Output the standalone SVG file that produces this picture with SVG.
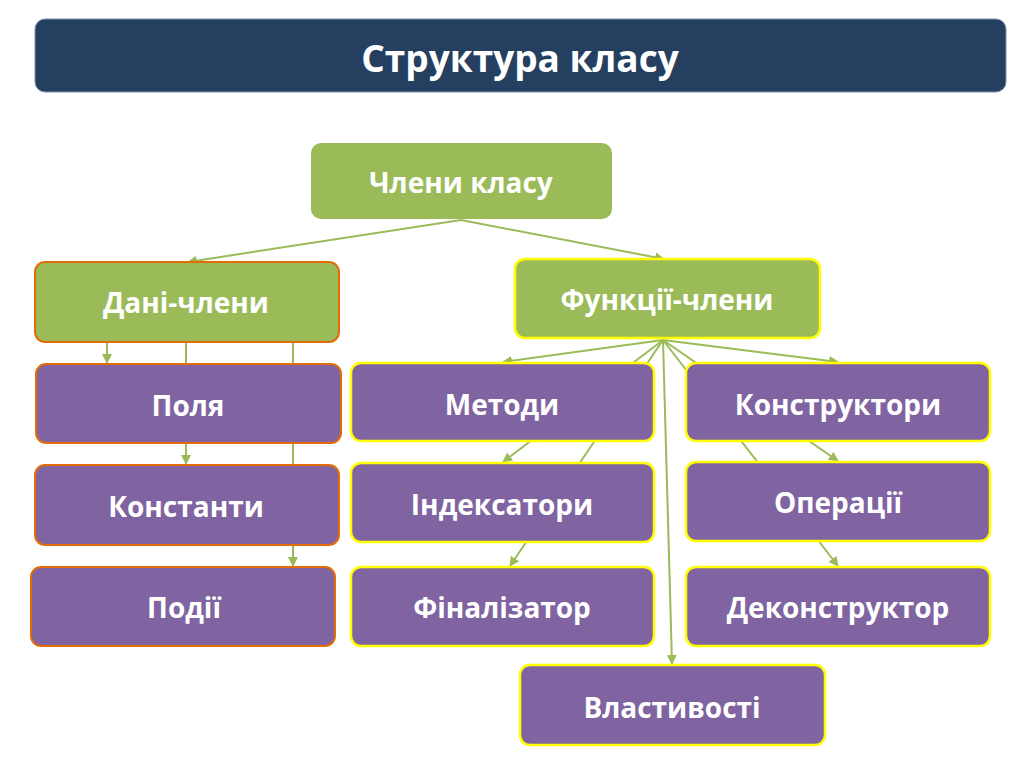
<svg xmlns="http://www.w3.org/2000/svg" width="1024" height="767" viewBox="0 0 1024 767">
<defs>
<marker id="ah" viewBox="0 0 10 10" refX="9" refY="5" markerWidth="5" markerHeight="5" orient="auto" markerUnits="strokeWidth">
<path d="M0,0 L10,5 L0,10 z" fill="#9BBB59"/>
</marker>
<style>
.t{font-family:"Open Sans","Liberation Sans",sans-serif;font-weight:bold;fill:#fff;text-anchor:middle;dominant-baseline:central;font-size:28px}
.g{fill:#9BBB59}
.p{fill:#8064A2}
.o{stroke:#E36C09;stroke-width:2}
.y{stroke:#FFFF00;stroke-width:2.5}
.c{stroke:#9BBB59;stroke-width:2;fill:none;marker-end:url(#ah)}
</style>
</defs>
<rect width="1024" height="767" fill="#fff"/>
<g id="title">
<rect x="35" y="19" width="971" height="73" rx="10" fill="#243F60" stroke="#7F93B0" stroke-width="1"/>
<text class="t" x="520" y="57" style="font-size:37px">Структура класу</text>
</g>
<g id="connectors">
<line class="c" x1="461" y1="220" x2="188" y2="262"/>
<line class="c" x1="461" y1="220" x2="664" y2="259"/>
<line class="c" x1="107" y1="342" x2="107" y2="363"/>
<line class="c" x1="186" y1="342" x2="186" y2="464"/>
<line class="c" x1="293" y1="342" x2="293" y2="566"/>
<line class="c" x1="663" y1="340" x2="503" y2="362"/>
<line class="c" x1="663" y1="340" x2="838" y2="362"/>
<line class="c" x1="663" y1="340" x2="503" y2="462"/>
<line class="c" x1="663" y1="340" x2="510" y2="566"/>
<line class="c" x1="663" y1="340" x2="838" y2="461"/>
<line class="c" x1="663" y1="340" x2="838" y2="566"/>
<line class="c" x1="663" y1="340" x2="672" y2="664"/>
</g>
<g id="n-chleny-klasu">
<rect class="g" x="311" y="143" width="301" height="76" rx="10"/>
<text class="t" x="461" y="182">Члени класу</text>
</g>
<g id="n-dani-chleny">
<rect class="g o" x="35" y="262" width="304" height="80" rx="10"/>
<text class="t" x="186" y="302">Дані-члени</text>
</g>
<g id="n-funktsii-chleny">
<rect class="g y" x="515" y="259" width="305" height="79" rx="10"/>
<text class="t" x="667" y="299">Функції-члени</text>
</g>
<g id="n-polia">
<rect class="p o" x="36" y="364" width="305" height="79" rx="10"/>
<text class="t" x="188" y="405">Поля</text>
</g>
<g id="n-konstanty">
<rect class="p o" x="35" y="465" width="304" height="80" rx="10"/>
<text class="t" x="186" y="506">Константи</text>
</g>
<g id="n-podii">
<rect class="p o" x="31" y="567" width="304" height="79" rx="10"/>
<text class="t" x="184" y="607">Події</text>
</g>
<g id="n-metody">
<rect class="p y" x="351" y="363" width="303" height="78" rx="10"/>
<text class="t" x="502" y="404">Методи</text>
</g>
<g id="n-indeksatory">
<rect class="p y" x="351" y="463" width="303" height="79" rx="10"/>
<text class="t" x="502" y="504">Індексатори</text>
</g>
<g id="n-finalizator">
<rect class="p y" x="351" y="567" width="303" height="79" rx="10"/>
<text class="t" x="502" y="607">Фіналізатор</text>
</g>
<g id="n-konstruktory">
<rect class="p y" x="686" y="363" width="304" height="78" rx="10"/>
<text class="t" x="838" y="404">Конструктори</text>
</g>
<g id="n-operatsii">
<rect class="p y" x="686" y="462" width="304" height="79" rx="10"/>
<text class="t" x="838" y="502">Операції</text>
</g>
<g id="n-dekonstruktor">
<rect class="p y" x="686" y="567" width="304" height="79" rx="10"/>
<text class="t" x="838" y="607">Деконструктор</text>
</g>
<g id="n-vlastyvosti">
<rect class="p y" x="520" y="665" width="305" height="80" rx="10"/>
<text class="t" x="672" y="707">Властивості</text>
</g>
</svg>
